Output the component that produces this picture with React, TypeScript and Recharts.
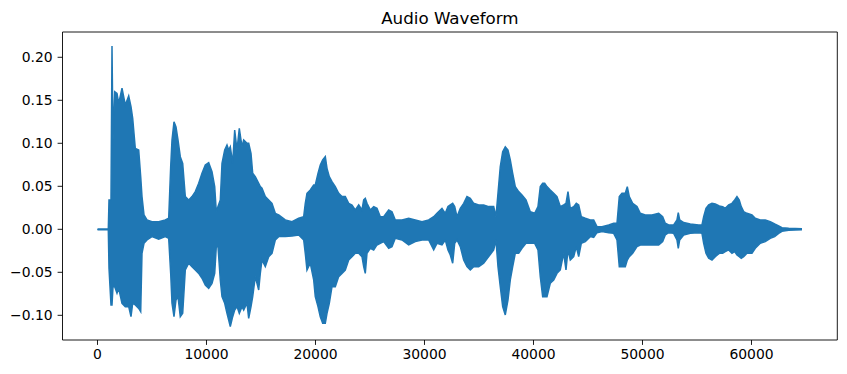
import React from 'react';
import { ComposedChart, Area, XAxis, YAxis, ReferenceArea } from 'recharts';

// Sample index of each envelope point
const sampleIdx = [
  0, 991, 1055, 1238, 1330, 1422, 1578, 1789, 1945, 2248, 2550, 2862, 3073, 3229, 3468, 3780, 3963, 4082, 4266, 4541,
  5000, 5615, 6220, 6532, 6715, 6835, 7018, 7202, 7385, 7596, 7816, 8055, 8367, 8669, 8972, 9284, 9587, 9890, 10201, 10504,
  10752, 10899, 11055, 11266, 11422, 11670, 11880, 12036, 12183, 12403, 12587, 12798, 13009, 13257, 13412, 13715, 13871, 14082, 14238, 14477,
  14789, 14935, 15091, 15394, 15706, 16009, 16311, 16623, 17229, 17843, 18458, 18917, 19063, 19219, 19522, 19834, 19981, 20229, 20440, 20660,
  20899, 21055, 21266, 21514, 21816, 22128, 22430, 22733, 23045, 23348, 23651, 23963, 24265, 24421, 24568, 24724, 25027, 25339, 25641, 25944,
  26256, 26715, 27018, 27320, 27935, 28549, 29155, 29769, 30384, 30843, 31146, 31604, 31907, 32155, 32366, 32586, 32770, 32981, 33284, 33596,
  33898, 34201, 34513, 34971, 35430, 35889, 36347, 36558, 36742, 36953, 37173, 37412, 37660, 37871, 38091, 38329, 38641, 38944, 39311, 39705,
  40109, 40412, 40623, 40843, 41026, 41237, 41540, 41852, 42155, 42457, 42769, 42981, 43164, 43375, 43687, 43926, 44146, 44385, 44752, 45210,
  45522, 45825, 46284, 46898, 47357, 47660, 47871, 48118, 48421, 48605, 48789, 49099, 49494, 49797, 50255, 50869, 51484, 51851, 52090, 52402,
  52861, 53163, 53283, 53411, 53778, 54384, 55154, 55457, 55613, 55824, 56071, 56374, 56677, 57044, 57356, 57594, 57906, 58209, 58456, 58667,
  58878, 59061, 59282, 59585, 60043, 60346, 60805, 61264, 61722, 62126, 62493, 62796, 63411, 64631,
];

// Upper envelope (max amplitude per point)
const upperEnv = [
  0.0004, 0.0004, 0.0341, 0.0341, 0.2132, 0.1039, 0.16, 0.158, 0.1465, 0.164, 0.1446, 0.155, 0.1426, 0.129, 0.094, 0.0922, 0.0612, 0.038, 0.0167, 0.0109,
  0.0089, 0.0089, 0.0109, 0.0128, 0.0729, 0.1039, 0.125, 0.119, 0.1039, 0.0845, 0.0767, 0.038, 0.0341, 0.038, 0.0438, 0.0535, 0.0651, 0.0748, 0.0775, 0.067,
  0.0496, 0.0205, 0.0264, 0.0341, 0.0767, 0.0922, 0.098, 0.0922, 0.096, 0.0767, 0.1155, 0.0922, 0.1174, 0.096, 0.1039, 0.1, 0.1, 0.0884, 0.0651, 0.0612,
  0.0535, 0.0496, 0.0477, 0.038, 0.0341, 0.0302, 0.0186, 0.0167, 0.0109, 0.0089, 0.0128, 0.0147, 0.0302, 0.0419, 0.0457, 0.0516, 0.0516, 0.0651, 0.0748, 0.0806,
  0.0845, 0.0709, 0.0612, 0.0554, 0.0496, 0.0419, 0.038, 0.038, 0.0302, 0.0283, 0.0225, 0.0283, 0.0225, 0.0341, 0.036, 0.0302, 0.0225, 0.0264, 0.0244, 0.0147,
  0.0147, 0.0225, 0.0205, 0.0109, 0.0109, 0.0128, 0.0109, 0.0089, 0.0109, 0.0147, 0.0186, 0.0244, 0.0186, 0.0264, 0.0283, 0.0302, 0.0264, 0.0147, 0.0244, 0.0302,
  0.038, 0.036, 0.0302, 0.0283, 0.0283, 0.0264, 0.0264, 0.0147, 0.0419, 0.0729, 0.0903, 0.096, 0.0922, 0.0806, 0.0651, 0.0496, 0.0438, 0.0399, 0.0341, 0.0205,
  0.0186, 0.0264, 0.0496, 0.0535, 0.0535, 0.0496, 0.0457, 0.0419, 0.038, 0.0264, 0.0283, 0.0302, 0.0438, 0.0244, 0.0264, 0.0302, 0.0283, 0.0147, 0.0128, 0.0109,
  0.0109, 0.0031, 0.0031, 0.005, 0.007, 0.007, 0.038, 0.0419, 0.0419, 0.0496, 0.038, 0.0302, 0.0264, 0.0186, 0.0167, 0.0167, 0.0186, 0.0147, 0.007, 0.005,
  0.005, 0.0109, 0.0194, 0.0109, 0.0078, 0.0062, 0.005, 0.005, 0.0147, 0.0244, 0.0283, 0.0302, 0.0295, 0.0271, 0.0264, 0.0244, 0.0283, 0.0302, 0.0341, 0.038,
  0.0341, 0.0264, 0.0205, 0.0186, 0.0167, 0.0128, 0.0109, 0.0109, 0.0089, 0.0062, 0.0039, 0.0019, 0.0012, 0.0006,
];

// Lower envelope (min amplitude per point)
const lowerEnv = [
  -0.0004, -0.0004, -0.0453, -0.088, -0.088, -0.0667, -0.0667, -0.0744, -0.0686, -0.086, -0.0899, -0.0899, -0.1016, -0.086, -0.088, -0.0919, -0.0957, -0.0279, -0.0163, -0.0124,
  -0.0085, -0.0116, -0.0085, -0.0105, -0.0512, -0.086, -0.1016, -0.0822, -0.0783, -0.1016, -0.0977, -0.0473, -0.0395, -0.0434, -0.0473, -0.0512, -0.0569, -0.0647, -0.0686, -0.0628,
  -0.0512, -0.0202, -0.0202, -0.0589, -0.0783, -0.086, -0.0977, -0.1054, -0.1132, -0.1016, -0.0938, -0.0899, -0.0977, -0.0899, -0.0938, -0.086, -0.1035, -0.0899, -0.0783, -0.055,
  -0.0705, -0.0512, -0.0357, -0.0434, -0.0318, -0.0279, -0.0124, -0.0085, -0.0085, -0.0078, -0.0066, -0.0124, -0.0279, -0.0473, -0.0395, -0.0589, -0.0783, -0.0899, -0.1016, -0.1093,
  -0.1093, -0.0977, -0.086, -0.0667, -0.0667, -0.055, -0.0512, -0.0473, -0.0357, -0.0318, -0.0279, -0.0279, -0.0318, -0.0434, -0.0512, -0.0279, -0.0221, -0.024, -0.0182, -0.0163,
  -0.0143, -0.0221, -0.0202, -0.0105, -0.0124, -0.0182, -0.0143, -0.0124, -0.0124, -0.024, -0.0163, -0.0182, -0.0124, -0.024, -0.0298, -0.0395, -0.0163, -0.0124, -0.0202, -0.0357,
  -0.0434, -0.0473, -0.0434, -0.0434, -0.0395, -0.0318, -0.024, -0.0124, -0.0434, -0.0667, -0.0899, -0.0996, -0.0822, -0.0589, -0.0434, -0.0279, -0.0279, -0.0221, -0.0163, -0.0163,
  -0.0163, -0.024, -0.055, -0.0783, -0.0783, -0.0783, -0.0628, -0.0589, -0.0512, -0.0473, -0.0279, -0.0473, -0.024, -0.0357, -0.0318, -0.0202, -0.0318, -0.0163, -0.0143, -0.0085,
  -0.0093, -0.0039, -0.0027, -0.0039, -0.0047, -0.0124, -0.0434, -0.0434, -0.0434, -0.0357, -0.0318, -0.0279, -0.0202, -0.0182, -0.0182, -0.0182, -0.0182, -0.0143, -0.0066, -0.0039,
  -0.0047, -0.0124, -0.0221, -0.0124, -0.0066, -0.0047, -0.0039, -0.0047, -0.0163, -0.0279, -0.0337, -0.0357, -0.0318, -0.0279, -0.0279, -0.026, -0.024, -0.0279, -0.026, -0.0298,
  -0.0318, -0.0337, -0.0318, -0.0279, -0.0279, -0.0221, -0.0163, -0.0143, -0.0105, -0.0085, -0.0047, -0.0023, -0.0012, -0.0006,
];

const xTicks = [0, 10000, 20000, 30000, 40000, 50000, 60000];
const yTicks = [-0.1, -0.05, 0, 0.05, 0.1, 0.15, 0.2];

const X_DOMAIN: [number, number] = [-3211, 67872];
const Y_DOMAIN: [number, number] = [-0.1287, 0.2294];

const data = sampleIdx.map((s, i) => ({ s, range: [lowerEnv[i], upperEnv[i]] }));

const FONT = "'DejaVu Sans', sans-serif";
const fmtY = (v: number) => {
  const r = Math.round(v * 100) / 100;
  if (Math.abs(r) < 1e-9) return '0.00';
  return r < 0 ? '\u2212' + Math.abs(r).toFixed(2) : r.toFixed(2);
};

export default function App() {
  return (
    <div style={{ position: 'absolute', left: 0, top: 0, width: 847, height: 374, background: '#fff' }}>
      <svg width={847} height={374} style={{ position: 'absolute', left: 0, top: 0, pointerEvents: 'none', zIndex: 2 }}>
        <text x={449.9} y={23.7} textAnchor="middle" fontFamily={FONT} fontSize={16.7} fill="#000">
          Audio Waveform
        </text>
      </svg>
      <ComposedChart
        width={847}
        height={374}
        data={data}
        margin={{ top: 32, right: 9.7, bottom: 0, left: 0 }}
      >
        <XAxis
          dataKey="s"
          type="number"
          domain={X_DOMAIN}
          allowDataOverflow
          ticks={xTicks}
          interval={0}
          height={34}
          axisLine={false}
          tickSize={4.9}
          tickMargin={4.5}
          tickLine={{ stroke: '#000', strokeWidth: 0.9 }}
          tick={{ fill: '#000', fontSize: 13.9, fontFamily: FONT }}
        />
        <YAxis
          type="number"
          domain={Y_DOMAIN}
          allowDataOverflow
          ticks={yTicks}
          interval={0}
          width={62.5}
          axisLine={false}
          tickSize={4.9}
          tickMargin={4.9}
          tickFormatter={fmtY}
          tickLine={{ stroke: '#000', strokeWidth: 0.9 }}
          tick={{ fill: '#000', fontSize: 13.9, fontFamily: FONT }}
        />
        <Area
          type="linear"
          dataKey="range"
          stroke="#1f77b4"
          strokeWidth={1.5}
          fill="#1f77b4"
          fillOpacity={1}
          dot={false}
          activeDot={false}
          isAnimationActive={false}
        />
        <ReferenceArea
          x1={X_DOMAIN[0]}
          x2={X_DOMAIN[1]}
          y1={Y_DOMAIN[0]}
          y2={Y_DOMAIN[1]}
          fill="none"
          stroke="#000"
          strokeWidth={0.9}
          ifOverflow="visible"
        />
      </ComposedChart>
    </div>
  );
}
